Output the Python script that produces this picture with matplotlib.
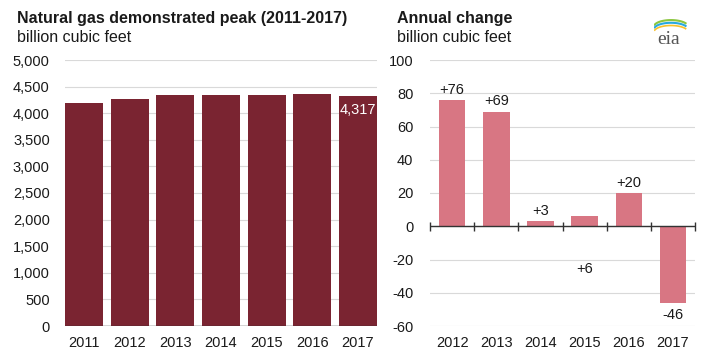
import matplotlib
matplotlib.use("Agg")
import matplotlib.pyplot as plt
import numpy as np

plt.rcParams['font.family'] = ['Liberation Sans', 'DejaVu Sans']
plt.rcParams['axes.unicode_minus'] = False

years = ['2011', '2012', '2013', '2014', '2015', '2016', '2017']
peak = [4189, 4265, 4334, 4337, 4343, 4363, 4317]
chg_years = ['2012', '2013', '2014', '2015', '2016', '2017']
change = [76, 69, 3, 6, 20, -46]
chg_labels = ['+76', '+69', '+3', '+6', '+20', '-46']

maroon = '#7a2431'
pink = '#d87683'
grid_c = '#d9d9d9'
txt = '#1a1a1a'
fs = 10.5

W, H = 710, 352
fig = plt.figure(figsize=(W / 100, H / 100), dpi=100)

def box(x0, x1, ytop, ybot):
    return [x0 / W, 1 - ybot / H, (x1 - x0) / W, (ybot - ytop) / H]

# left panel
ax = fig.add_axes(box(65, 377, 60, 326))
x = np.arange(len(years))
ax.bar(x, peak, width=0.83, color=maroon, zorder=2)
ax.set_xlim(-0.415, len(years) - 1 + 0.415)
ax.set_ylim(0, 5000)
yt = np.arange(0, 5001, 500)
ax.set_yticks(yt)
ax.set_yticklabels([f'{v:,}' for v in yt])
ax.set_xticks(x)
ax.set_xticklabels(years)
ax.grid(axis='y', color=grid_c, lw=0.8, zorder=0)
for s in ax.spines.values():
    s.set_visible(False)
ax.axhline(0, color='#333333', lw=1, zorder=3)
ax.tick_params(length=0, labelsize=fs, colors=txt)
ax.tick_params(axis='y', pad=11)
ax.tick_params(axis='x', pad=7)
ax.text(x[-1], peak[-1] - 130, f'{peak[-1]:,}', color='white', ha='center',
        va='top', fontsize=fs, zorder=4)

# right panel
ax2 = fig.add_axes(box(430, 695, 60, 326))
x2 = np.arange(len(chg_years))
ax2.bar(x2, change, width=0.6, color=pink, zorder=2)
ax2.set_xlim(-0.5, len(chg_years) - 0.5)
ax2.set_ylim(-60, 100)
ax2.set_yticks(np.arange(-60, 101, 20))
ax2.set_xticks(x2)
ax2.set_xticklabels(chg_years)
ax2.grid(axis='y', color=grid_c, lw=0.8, zorder=0)
for s in ax2.spines.values():
    s.set_visible(False)
ax2.tick_params(length=0, labelsize=fs, colors=txt)
ax2.tick_params(axis='y', pad=12)
ax2.tick_params(axis='x', pad=7)
ax2.axhline(0, color='#333333', lw=1, zorder=3)
bounds = np.arange(len(chg_years) + 1) - 0.5
ax2.vlines(bounds, -2.6, 2.6, color='#333333', lw=1, zorder=3, clip_on=False)
for i, (v, lab) in enumerate(zip(change, chg_labels)):
    if lab == '+6':
        ax2.text(i, -26, lab, ha='center', va='center', fontsize=fs, color=txt)
    elif v >= 0:
        ax2.text(i, v + 2, lab, ha='center', va='bottom', fontsize=fs, color=txt)
    else:
        ax2.text(i, v - 3, lab, ha='center', va='top', fontsize=fs, color=txt)

# titles
fig.text(17 / W, 1 - 18 / H, 'Natural gas demonstrated peak (2011-2017)',
         fontsize=11.5, fontweight='bold', color=txt, va='center')
fig.text(17 / W, 1 - 38 / H, 'billion cubic feet', fontsize=11.5, color=txt, va='center')
fig.text(397 / W, 1 - 18 / H, 'Annual change', fontsize=11.5, fontweight='bold',
         color=txt, va='center')
fig.text(397 / W, 1 - 38 / H, 'billion cubic feet', fontsize=11.5, color=txt, va='center')

# eia logo
fig.text(669 / W, 1 - 39 / H, 'eia', fontsize=14, family='Liberation Serif',
         color='#555555', ha='center', va='center')
lax = fig.add_axes(box(654, 688, 19, 32))
lax.axis('off')
t = np.linspace(0.3, 2.6, 40)
lax.plot(np.cos(t) * -1 + 1, np.sin(t) * 0.6, color='#8cc63f', lw=1.5)
lax.plot(np.cos(t) * -1 + 1, np.sin(t) * 0.6 - 0.25, color='#29a9e0', lw=1.5)
lax.plot(np.cos(t) * -1 + 1, np.sin(t) * 0.6 - 0.5, color='#f7c12b', lw=1.2)
lax.set_xlim(0, 2)
lax.set_ylim(-0.5, 0.7)

fig.savefig('out.png', dpi=100)
